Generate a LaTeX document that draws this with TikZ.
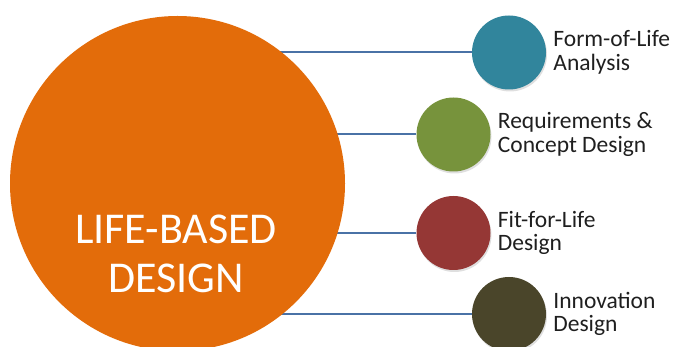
\documentclass[tikz,border=0pt]{standalone}
\usepackage{fontspec}
\setmainfont{Carlito}
\usetikzlibrary{positioning,shadows,backgrounds}

\definecolor{lbdorange}{HTML}{E36C0A}
\definecolor{folblue}{HTML}{31859C}
\definecolor{rcdgreen}{HTML}{77933C}
\definecolor{fflred}{HTML}{953735}
\definecolor{innolive}{HTML}{4A452A}
\definecolor{linkblue}{HTML}{4A72A6}

\begin{document}
\begin{tikzpicture}[x=1pt,y=-1pt]

    \tikzset{
      bigdot/.style={
        circle,
        fill=lbdorange,
        minimum size=335pt,
        inner sep=0pt,
      },
      stage/.style={
        circle,
        minimum size=74pt,
        inner sep=0pt,
        drop shadow={shadow xshift=1pt,shadow yshift=-2pt,opacity=0.25},
      },
      stagetext/.style={
        right=7pt of #1,
        align=left,
        inner sep=0pt,
        font=\fontsize{23.5}{23.5}\selectfont,
        text=black!88,
      },
      link/.style={draw=linkblue, line width=2pt},
    }
    \useasboundingbox (0,0) rectangle (675,347);
    \clip (0,0) rectangle (675,347);

    % main circle
    \node[bigdot] (lbd) at (177.5,183.5) {};
    \node[font=\fontsize{44}{49}\selectfont, text=white, align=center, inner sep=0pt] (lbdtext) at (176,254) {LIFE-BASED\\DESIGN};

    % the four stages
    \node[stage, fill=folblue] (fol) at (509,52.5) {};
    \node[stage, fill=rcdgreen] (rcd) at (453.5,134.5) {};
    \node[stage, fill=fflred] (ffl) at (453.5,233) {};
    \node[stage, fill=innolive] (inn) at (509,314) {};

    \node[stagetext=fol] (foltext) {Form-of-Life\\Analysis};
    \node[stagetext=rcd] (rcdtext) {Requirements \&\\Concept Design};
    \node[stagetext=ffl] (ffltext) {Fit-for-Life\\Design};
    \node[stagetext=inn] (inntext) {Innovation\\Design};

    \begin{scope}[on background layer]
      \draw[link] (fol.west) -- (fol.west -| lbd.center);
      \draw[link] (rcd.west) -- (rcd.west -| lbd.center);
      \draw[link] (ffl.west) -- (ffl.west -| lbd.center);
      \draw[link] (inn.west) -- (inn.west -| lbd.center);
    \end{scope}

\end{tikzpicture}
\end{document}
